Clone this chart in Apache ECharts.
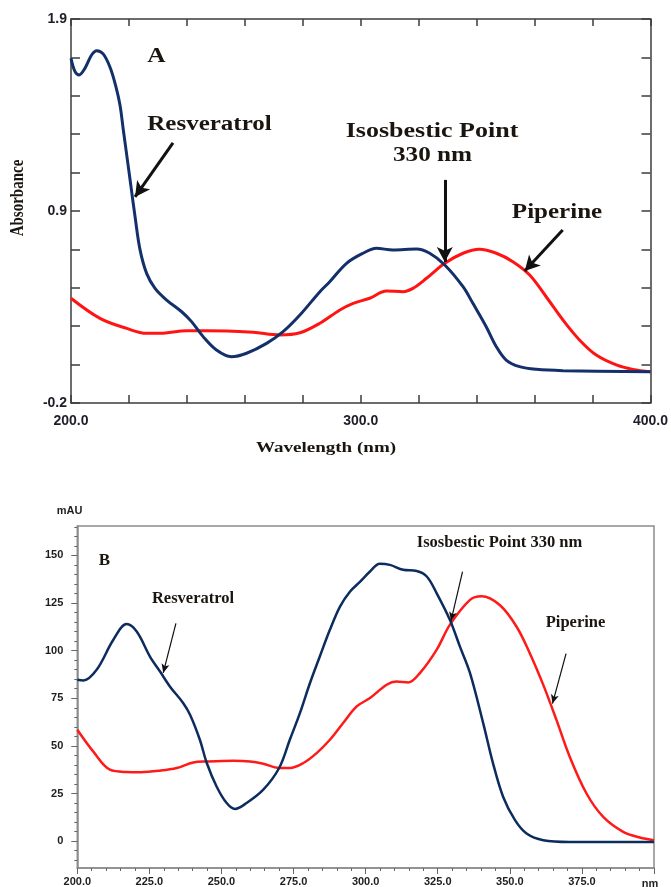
<!DOCTYPE html>
<html>
<head>
<meta charset="utf-8">
<script src="https://cdn.jsdelivr.net/npm/echarts@6.0.0/dist/echarts.min.js"></script>
<style>
  html, body { margin: 0; padding: 0; background: #fff; }
  #chart { width: 671px; height: 887px; }
</style>
</head>
<body>
<div id="chart"></div>
<script>
// ---- panel A : UV spectra (absorbance) ----
const resWaveA = [200, 201.4, 202.8, 204.8, 207.1, 208.9, 211.1, 213.4, 215.2, 216.9, 218, 219.8, 220.9, 222.1, 223.8, 226.1, 229, 233, 238.2, 241.6, 245.6, 250.2, 255.4, 260.6, 267.5, 273.2, 279, 285.9, 289.3, 295.1, 300.8, 305.4, 311.1, 319.2, 323.8, 329, 335.3, 338.7, 343.3, 346.8, 350.2, 354.8, 360.6, 369.8, 400];
const resAbsA = [1.685, 1.612, 1.594, 1.63, 1.703, 1.727, 1.709, 1.639, 1.548, 1.43, 1.3, 1.09, 0.96, 0.82, 0.64, 0.509, 0.427, 0.363, 0.299, 0.245, 0.163, 0.09, 0.053, 0.072, 0.126, 0.19, 0.281, 0.409, 0.463, 0.564, 0.619, 0.646, 0.637, 0.642, 0.619, 0.555, 0.436, 0.345, 0.217, 0.108, 0.035, -0.001, -0.016, -0.023, -0.029];
const pipWaveA = [200, 210, 219.2, 226.1, 230.7, 239.9, 253.7, 262.9, 272.1, 279, 285.9, 292.8, 297.4, 303.1, 308.9, 314.6, 318, 322.7, 329, 335.3, 341, 346.8, 352.5, 358.3, 364, 369.8, 375.5, 381.3, 388.2, 393.9, 400];
const pipAbsA = [0.373, 0.263, 0.208, 0.181, 0.181, 0.195, 0.194, 0.187, 0.172, 0.184, 0.236, 0.309, 0.345, 0.373, 0.412, 0.409, 0.427, 0.482, 0.564, 0.619, 0.641, 0.619, 0.573, 0.5, 0.381, 0.254, 0.145, 0.062, 0.008, -0.016, -0.029];

// ---- panel B : HPLC-DAD spectra (mAU) ----
const resWaveB = [200, 202.1, 206.7, 212.5, 217.1, 220.6, 225.2, 228.7, 232.1, 236.7, 239.1, 242.5, 244.9, 248.3, 251.8, 254.7, 258.7, 264.5, 270, 273.7, 277.2, 280.7, 284.1, 287.6, 291.1, 294.6, 298.1, 301.5, 304.9, 308.4, 313, 317.7, 321.2, 324.6, 329.2, 332.7, 336.2, 340.8, 344.2, 347.7, 351.8, 355.8, 361.6, 370.8, 400];
const resMauB = [84.7, 84.3, 89.9, 105.7, 113.9, 110, 96.9, 89, 81.2, 72.5, 66.3, 53.2, 41, 28.7, 20, 16.9, 20, 27, 38.4, 53.2, 67.2, 83, 96.9, 110.9, 123.1, 131, 136.2, 141.5, 145.6, 145, 142.4, 141.8, 138.9, 130.2, 116.2, 102.1, 88.2, 61.7, 40.7, 23.2, 11, 4, 0.5, -0.4, -0.4];
const pipWaveB = [200, 205.5, 211.3, 217.1, 222, 228.7, 234.5, 240.2, 244.9, 254.1, 259.9, 264.5, 270, 273.7, 278.4, 283, 287.6, 292.2, 296.9, 301.5, 307.3, 310.7, 314.8, 318.8, 324.6, 329.2, 336.2, 340.2, 346.6, 352.4, 357, 361.6, 366.2, 370.8, 376.6, 382.4, 389.3, 395.1, 400];
const pipMauB = [58.5, 47.1, 37.5, 36.3, 36.2, 37, 38.4, 41.3, 41.8, 42.2, 41.8, 40.6, 38.4, 38.4, 41, 46.2, 53.2, 62, 70.7, 75.1, 82.1, 83.8, 83.3, 88.2, 100.4, 113.5, 126.6, 128.5, 123.8, 112.4, 98.4, 82, 63.5, 44.2, 25, 12.7, 4.9, 1.9, 0.5];

// tick labels
const yLabelValsA = [-0.2, 0.85, 1.9];
const yLabelTextA = ['-0.2', '0.9', '1.9'];
const yMajorB = [0, 25, 50, 75, 100, 125, 150];

// arrows (data coords): [from, to]
const arrowsA = [[[235.2, 1.222], [222.1, 0.927]], [[329, 1.02], [329, 0.571]], [[369.7, 0.746], [356.6, 0.522]]];
const arrowsB = [[[234.2, 114.3], [229.8, 88.3]], [[333.6, 141.5], [329.6, 115.6]], [[369.5, 98.4], [364.8, 72.2]]];

const zip = (xs, ys) => xs.map((x, i) => [x, ys[i]]);

const yTicksA = [];
for (let i = 0; i <= 10; i++) yTicksA.push(+(-0.2 + i * 0.21).toFixed(2));
const yTicksB = [];
for (let v = -10; v <= 165; v += 5) yTicksB.push(v);

const font = s => 'bold ' + s + 'px "Liberation Serif", "Times New Roman", serif';
const sans = '"Liberation Sans", Arial, sans-serif';
const dark = '#1b1510';
const frameA = '#3c3c3c';
const frameB = '#8c8c8c';

function arrowLine(list, width, size) {
  return {
    silent: true,
    animation: false,
    symbol: ['none', 'arrow'],
    symbolSize: size,
    label: { show: false },
    lineStyle: { color: '#111', width: width, type: 'solid' },
    emphasis: { disabled: true },
    data: list.map(a => [{ coord: a[0] }, { coord: a[1] }])
  };
}

function txt(text, x, y, size, opts) {
  return Object.assign({
    type: 'text', x: x, y: y, silent: true,
    style: { text: text, font: font(size), fill: dark, align: 'center', verticalAlign: 'middle' }
  }, opts || {});
}

const chart = echarts.init(document.getElementById('chart'));

const option = {
  animation: false,
  backgroundColor: '#fff',
  grid: [
    { left: 71, top: 19, width: 580, height: 384, show: false },
    { left: 77.3, top: 526, width: 576.7, height: 342.3, show: true, borderColor: frameB, borderWidth: 1.5, backgroundColor: 'transparent' }
  ],
  xAxis: [
    {
      gridIndex: 0, type: 'value', position: 'bottom', min: 200, max: 400, interval: 20,
      axisLine: { onZero: false, lineStyle: { color: frameA, width: 1.5 } },
      axisTick: { inside: true, length: 8, lineStyle: { color: frameA, width: 1.5 } },
      axisLabel: {
        interval: 0, showMinLabel: true, showMaxLabel: true, margin: 11,
        formatter: v => (v % 100 === 0 ? v.toFixed(1) : ''),
        color: '#1e1e2a', fontWeight: 'bold', fontSize: 14, fontFamily: sans
      },
      splitLine: { show: false }
    },
    {
      gridIndex: 0, type: 'value', position: 'top', min: 200, max: 400, interval: 20,
      axisLine: { onZero: false, lineStyle: { color: frameA, width: 1.5 } },
      axisTick: { inside: true, length: 7, lineStyle: { color: frameA, width: 1.5 } },
      axisLabel: { show: false },
      splitLine: { show: false }
    },
    {
      gridIndex: 1, type: 'value', position: 'bottom', min: 200, max: 400, interval: 5,
      axisLine: { onZero: false, lineStyle: { color: frameB, width: 1.5 } },
      axisTick: { length: 3, lineStyle: { color: '#666', width: 1 } },
      axisLabel: {
        interval: 0, margin: 8,
        formatter: v => (v % 25 === 0 && v < 400 ? v.toFixed(1) : ''),
        color: '#1e1e1e', fontWeight: 'bold', fontSize: 11, fontFamily: sans
      },
      splitLine: { show: false }
    },
    {
      gridIndex: 1, type: 'value', position: 'bottom', min: 200, max: 400, interval: 25,
      axisLine: { show: false, onZero: false },
      axisTick: { length: 6, lineStyle: { color: '#666', width: 1 } },
      axisLabel: { show: false },
      splitLine: { show: false }
    }
  ],
  yAxis: [
    {
      gridIndex: 0, type: 'value', position: 'left', min: -0.2, max: 1.9,
      axisLine: { show: true, onZero: false, lineStyle: { color: frameA, width: 1.5 } },
      axisTick: { show: true, inside: true, length: 9, customValues: yTicksA, lineStyle: { color: frameA, width: 1.5 } },
      axisLabel: {
        customValues: yLabelValsA, margin: 4,
        formatter: v => {
          const i = yLabelValsA.findIndex(t => Math.abs(t - v) < 1e-6);
          return i >= 0 ? yLabelTextA[i] : '';
        },
        color: '#1e1e2a', fontWeight: 'bold', fontSize: 14, fontFamily: sans
      },
      splitLine: { show: false }
    },
    {
      gridIndex: 0, type: 'value', position: 'right', min: -0.2, max: 1.9,
      axisLine: { show: true, onZero: false, lineStyle: { color: frameA, width: 1.5 } },
      axisTick: { show: true, inside: true, length: 9, customValues: yTicksA, lineStyle: { color: frameA, width: 1.5 } },
      axisLabel: { show: false },
      splitLine: { show: false }
    },
    {
      gridIndex: 1, type: 'value', position: 'left', min: -14.1, max: 165.4,
      axisLine: { show: true, onZero: false, lineStyle: { color: frameB, width: 1.5 } },
      axisTick: { show: true, length: 3, customValues: yTicksB, lineStyle: { color: '#666', width: 1 } },
      axisLabel: {
        customValues: yMajorB, margin: 14, padding: [0, 0, 5, 0],
        color: '#1e1e1e', fontWeight: 'bold', fontSize: 11, fontFamily: sans
      },
      splitLine: { show: false }
    },
    {
      gridIndex: 1, type: 'value', position: 'left', min: -14.1, max: 165.4,
      axisLine: { show: false, onZero: false },
      axisTick: { show: true, length: 6, customValues: yMajorB, lineStyle: { color: '#666', width: 1 } },
      axisLabel: { show: false },
      splitLine: { show: false }
    }
  ],
  series: [
    {
      name: 'Resveratrol', type: 'line', xAxisIndex: 0, yAxisIndex: 0,
      data: zip(resWaveA, resAbsA), smooth: 0.35, symbol: 'none',
      lineStyle: { color: '#13306b', width: 3 }, z: 3,
      markLine: arrowLine(arrowsA, 3, [12, 15])
    },
    {
      name: 'Piperine', type: 'line', xAxisIndex: 0, yAxisIndex: 0,
      data: zip(pipWaveA, pipAbsA), smooth: 0.35, symbol: 'none',
      lineStyle: { color: '#ff1414', width: 3 }, z: 2
    },
    {
      name: 'Resveratrol', type: 'line', xAxisIndex: 2, yAxisIndex: 2,
      data: zip(resWaveB, resMauB), smooth: 0.35, symbol: 'none',
      lineStyle: { color: '#0d2c5e', width: 2.5 }, z: 3,
      markLine: arrowLine(arrowsB, 1.2, [6, 9])
    },
    {
      name: 'Piperine', type: 'line', xAxisIndex: 2, yAxisIndex: 2,
      data: zip(pipWaveB, pipMauB), smooth: 0.35, symbol: 'none',
      lineStyle: { color: '#ff1a1a', width: 2.5 }, z: 2
    }
  ],
  graphic: [
    // panel A texts (the original panel is stretched horizontally)
    txt('A', 156.5, 57, 20, { scaleX: 1.27 }),
    txt('Resveratrol', 209.5, 125, 20, { scaleX: 1.25 }),
    txt('Isosbestic Point', 432, 131.5, 20, { scaleX: 1.3 }),
    txt('330 nm', 432.5, 155.5, 20, { scaleX: 1.26 }),
    txt('Piperine', 557, 212.5, 20, { scaleX: 1.25 }),
    txt('Wavelength (nm)', 326, 448, 15, { scaleX: 1.27 }),
    txt('Absorbance', 18, 198, 15, { rotation: Math.PI / 2, scaleY: 1.2 }),
    // panel B texts
    {
      type: 'text', x: 69.5, y: 511, silent: true,
      style: { text: 'mAU', font: 'bold 11px ' + sans, fill: '#1e1e1e', align: 'center', verticalAlign: 'middle' }
    },
    {
      type: 'text', x: 650, y: 884, silent: true,
      style: { text: 'nm', font: 'bold 11px ' + sans, fill: '#1e1e1e', align: 'center', verticalAlign: 'middle' }
    },
    txt('B', 104.5, 561, 17),
    txt('Resveratrol', 193, 599, 16.5),
    txt('Isosbestic Point 330 nm', 499.5, 543, 16.5),
    txt('Piperine', 575.5, 622.5, 16.5)
  ]
};

chart.setOption(option);
</script>
</body>
</html>
